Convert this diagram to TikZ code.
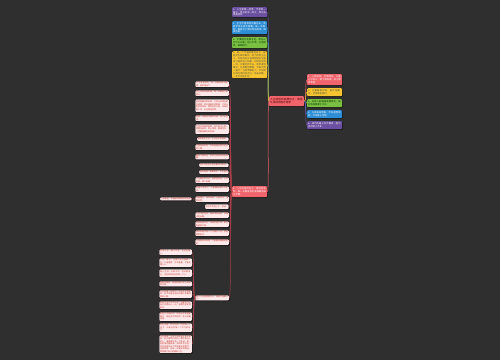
\documentclass[tikz,border=0pt]{standalone}
\usepackage{fontspec}
\usepackage{tikz}
\usetikzlibrary{shadows}
\newfontfamily\cjk{Noto Sans CJK SC}
\XeTeXlinebreaklocale "zh"
\XeTeXlinebreakskip = 0pt plus 1pt
\definecolor{bgcol}{HTML}{2F2F2F}
\definecolor{mred}{HTML}{F0646C}
\definecolor{myellow}{HTML}{F5C430}
\definecolor{mgreen}{HTML}{7CC043}
\definecolor{mblue}{HTML}{2D8ED5}
\definecolor{mpurple}{HTML}{6B4FA0}
\definecolor{leaffill}{HTML}{FDE8EA}
\definecolor{leafline}{HTML}{A8404A}
\definecolor{leaftext}{HTML}{C0392B}
\tikzset{card/.style = {rounded corners=1pt, inner xsep=1pt, inner ysep=0.6pt,
                        align=left, anchor=north west,
                        drop shadow={shadow xshift=0.5pt, shadow yshift=-0.5pt,
                                     fill=black, opacity=0.8}},
         topic/.style = {card, text width=33pt, text=white,
                         font=\cjk\fontsize{2.3}{2.9}\selectfont},
         leaf/.style = {card, fill=leaffill, draw=black, line width=0.3pt,
                        text=leaftext, text width=32pt,
                        font=\cjk\fontsize{2}{2.5}\selectfont},
         tag/.style = {card, fill=leaffill, draw=black, line width=0.3pt,
                       text=leaftext, anchor=north east,
                       font=\cjk\fontsize{2}{2.5}\selectfont},
         link/.style = {line width=0.5pt}}

\begin{document}
\begin{tikzpicture}[x=1pt, y=-1pt]
      \useasboundingbox (0, 0) rectangle (500, 360);
      \fill [bgcol] (0, 0) rectangle (500, 360);

      % centre
      \node [topic, fill=mred, text=black!70!red, minimum height=10pt,
             font=\cjk\fontsize{2.6}{3.2}\selectfont] (root) at (269, 96)
            {人生感悟的经典句子：简短又深刻的励志语录};

      % upper left branch
      \node [topic, fill=mpurple, minimum height=10pt] (ul1) at (232, 7)
            {1、人生就像一杯茶，不会苦一辈子，但总会苦一阵子，熬过去便是回甘。};
      \node [topic, fill=mblue, minimum height=13pt] (ul2) at (232, 21)
            {2、生活不是等待风暴过去，而是学会在雨中跳舞；每一次跌倒，都是为了更好地站起来，继续向前。};
      \node [topic, fill=mgreen, text=black!80!green, minimum height=11pt] (ul3) at (232, 37)
            {3、不要因为走得太远，而忘记为什么出发；初心不改，方得始终，砥砺前行。};
      \node [topic, fill=myellow, text=black!75!yellow, minimum height=27pt] (ul4) at (232, 51)
            {4、每一个不曾起舞的日子，都是对生命的辜负。努力的意义在于，以后的日子里放眼望去全是自己喜欢的人和事。时间会证明一切，只要坚持下去，终会看到曙光。与其抱怨黑暗，不如点亮一盏灯；与其羡慕别人，不如努力成为更好的自己。再长的路，一步步也能走完。};
      \node [topic, fill=mred, minimum height=11pt] (sub) at (232, 186)
            {5、人生感悟的句子：简短而深刻，每一句都值得反复细细品味与珍藏。};

      % right branch
      \node [topic, fill=mred, minimum height=11pt] (r1) at (307, 74)
            {1、心若向阳，无谓悲伤；只要心中有光，脚下便有路，前方便有希望。};
      \node [topic, fill=myellow, text=black!75!yellow, minimum height=8pt] (r2) at (307, 88)
            {2、只要路是对的，就不怕路远，坚持就是胜利。};
      \node [topic, fill=mgreen, text=black!80!green, minimum height=8pt] (r3) at (307, 99)
            {3、没有人能随随便便成功，每份收获都源于汗水。};
      \node [topic, fill=mblue, minimum height=8pt] (r4) at (307, 110)
            {4、与其临渊羡鱼，不如退而结网，行动胜于空想。};
      \node [topic, fill=mpurple, minimum height=8pt] (r5) at (307, 121)
            {5、成功的路上并不拥挤，因为坚持的人不多。};

      \draw [link, mpurple] (root.west) .. controls +(-2, 0) and +(2, 0) .. (ul1.east);
      \draw [link, mblue] (root.west) .. controls +(-2, 0) and +(2, 0) .. (ul2.east);
      \draw [link, mgreen] (root.west) .. controls +(-2, 0) and +(2, 0) .. (ul3.east);
      \draw [link, myellow] (root.west) .. controls +(-2, 0) and +(2, 0) .. (ul4.east);
      \draw [link, mred] (root.west) .. controls +(-2, 0) and +(2, 0) .. (sub.east);
      \draw [link, mred] (root.east) .. controls +(2, 0) and +(-2, 0) .. (r1.west);
      \draw [link, myellow] (root.east) .. controls +(2, 0) and +(-2, 0) .. (r2.west);
      \draw [link, mgreen] (root.east) .. controls +(2, 0) and +(-2, 0) .. (r3.west);
      \draw [link, mblue] (root.east) .. controls +(2, 0) and +(-2, 0) .. (r4.west);
      \draw [link, mpurple] (root.east) .. controls +(2, 0) and +(-2, 0) .. (r5.west);

      % leaves of the lower red topic
      \node [leaf, minimum height=6pt] (l1) at (195, 81) {人生没有彩排，每一天都是现场直播，请珍惜当下。};
      \node [leaf, minimum height=6pt] (l2) at (195, 90) {世上没有白走的路，每一步都有它的意义。};
      \node [leaf, minimum height=13pt] (l3) at (195, 99) {时间是最好的老师，它会让你明白很多道理；经历是最好的财富，它会让你学会成长。愿你历尽千帆，归来仍是少年，永远保持热爱。};
      \node [leaf, minimum height=6pt] (l4) at (195, 115) {把每一天都当作新的开始，努力去生活。};
      \node [leaf, minimum height=10pt] (l5) at (195, 124) {生活总会给你答案，但不会马上把一切都告诉你，耐心等待，静候花开，一切都是最好的安排。};
      \node [tag, minimum height=4pt] (l6) at (229, 137) {微笑面对生活，生活也对你微笑。};
      \node [leaf, minimum height=6pt] (l7) at (195, 144) {不要害怕失败，失败是通往成功的必经之路。};
      \node [leaf, minimum height=5pt] (l8) at (195, 154) {越努力越幸运，你的付出终将会有回报。};
      \node [tag, minimum height=4pt] (l9) at (229, 163) {在平凡的日子里也要闪闪发光。};
      \node [tag, minimum height=4pt] (l10) at (229, 170) {低头赶路，敬事如仪，不负韶华};
      \node [leaf, minimum height=6pt] (l11) at (195, 177) {人生最好的状态，是眼里有光，心中有爱，脚下有路。};
      \node [leaf, minimum height=6pt] (l12) at (195, 186) {把握今天的人，才能拥有更好的明天。};
      \node [leaf, minimum height=6pt] (l13) at (195, 196) {你若盛开，清风自来；心若浮沉，浅笑安然。};
      \node [tag, minimum height=3.5pt] (l13a) at (192, 197) {心存希望，幸福就会降临你的身边};
      \node [tag, minimum height=5pt] (l14) at (229, 204) {时光不负有心人，加油。};
      \node [leaf, minimum height=6pt] (l15) at (195, 212) {心态决定命运，格局决定结局，思路决定出路。};
      \node [leaf, minimum height=6pt] (l16) at (195, 221) {愿你走出半生，归来仍是少年，眼中有星辰大海。};
      \node [leaf, minimum height=6pt] (l17) at (195, 230) {成长就是学会一个人面对一切，并且微笑前行。};
      \node [leaf, minimum height=6pt] (l18) at (195, 239) {只有经历过风雨，才能看见最美的彩虹。};
      \node [leaf, minimum height=5.5pt] (l19) at (195, 295) {关于人生感悟的句子，简短又温暖人心。};

      \foreach \n in {l1, l2, l3, l4, l5, l6, l7, l8, l9, l10,
                      l11, l12, l13, l14, l15, l16, l17, l18, l19}
        \draw [link, leafline] (sub.west) .. controls +(-2, 0) and +(2, 0) .. (\n.east);
      \draw [link, leafline] (l13.west) -- (l13a.east);

      % leaves of the last one
      \node [leaf, text width=31pt, minimum height=6pt] (s1) at (159, 249) {生命不止，奋斗不息，永远在路上。};
      \node [leaf, text width=31pt, minimum height=9pt] (s2) at (159, 258) {人这一辈子，总要为自己勇敢一次，不留遗憾，不负青春，才能无愧于心。};
      \node [leaf, text width=31pt, minimum height=8pt] (s3) at (159, 269) {用心生活，认真工作，好好爱自己，也好好爱身边的每一个人。};
      \node [leaf, text width=31pt, minimum height=5.5pt] (s4) at (159, 281) {所有的美好，都值得我们耐心等待和守候。};
      \node [leaf, text width=31pt, minimum height=8pt] (s5) at (159, 290) {人生就像一场旅行，不必在乎目的地，在乎的是沿途的风景以及看风景的心情。};
      \node [leaf, text width=31pt, minimum height=8pt] (s6) at (159, 301) {即使生活不尽如人意，也要努力让自己过得开心一点，温柔而坚定地前行。};
      \node [leaf, text width=31pt, minimum height=9pt] (s7) at (159, 312) {那些打不倒你的，终将让你变得更强大；那些杀不死你的，会让你更坚强。};
      \node [leaf, text width=31pt, minimum height=9pt] (s8) at (159, 323) {岁月不居，时节如流，珍惜每一个当下，认真过好每一个平凡的日子。};
      \node [leaf, text width=31pt, minimum height=18pt] (s9) at (159, 335) {人生感悟：生活中总会有许多不如意，但只要我们保持一颗积极向上的心，勇敢面对每一个挑战，就一定能够克服困难。失败并不可怕，可怕的是失去了再次尝试的勇气。坚持梦想，总有一天会实现目标，收获属于自己的精彩人生。};

      \foreach \n in {s1, s2, s3, s4, s5, s6, s7, s8, s9}
        \draw [link, leafline] (l19.west) .. controls +(-2, 0) and +(2, 0) .. (\n.east);
    \end{tikzpicture}
\end{document}
